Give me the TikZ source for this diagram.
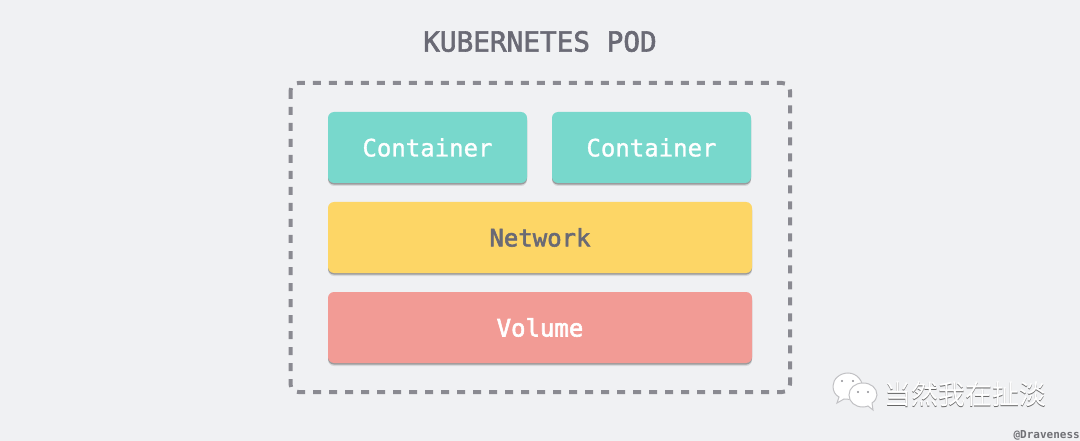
\documentclass[tikz,border=0pt]{standalone}
\usepackage{fontspec}
\setmonofont{DejaVu Sans Mono}
\newfontfamily\medmono[FakeBold=1.2]{DejaVu Sans Mono}
\newfontfamily\titlemono[FakeBold=2.2]{DejaVu Sans Mono}
\newfontfamily\semimono[FakeBold=2.4]{DejaVu Sans Mono}
\newfontfamily\cjkfont{Noto Sans CJK SC}
\definecolor{bgc}{HTML}{F0F1F3}
\definecolor{inkc}{HTML}{6A6A75}
\definecolor{tealc}{HTML}{78D8CC}
\definecolor{yellowc}{HTML}{FDD666}
\definecolor{redc}{HTML}{F29B95}
\definecolor{framec}{HTML}{8A8A91}
\definecolor{wmc}{HTML}{8E8E94}
\tikzset{
  softshadow/.style={
    preaction={fill=black,fill opacity=.10,transform canvas={yshift=-3pt}},
    preaction={fill=black,fill opacity=.28,transform canvas={yshift=-1.6pt}}},
  block/.style={rectangle,rounded corners=6pt,softshadow,inner sep=0pt,minimum height=71pt,font=\ttfamily\fontsize{24}{28}\selectfont},
  bubble/.style={fill=white,draw=wmc!55,line width=1pt},
}
\begin{document}
\begin{tikzpicture}[x=1pt,y=-1pt]
\useasboundingbox (0,0) rectangle (1080,441);
\fill[bgc] (0,0) rectangle (1080,441);
\node[font=\titlemono\fontsize{27.7}{32}\selectfont,text=inkc,anchor=center] (title) at (540,41.5) {KUBERNETES POD};
\draw[framec,line width=4pt,rounded corners=8pt,dash pattern=on 8pt off 8pt] (290.5,83) rectangle (790,392);
\path[use as bounding box] (0,0) rectangle (1080,441);
\node[block,fill=tealc,text=white,minimum width=199pt] (c1) at (427.5,147.5) {\raisebox{-1pt}{\medmono Container}};
\node[block,fill=tealc,text=white,minimum width=199pt] (c2) at (651.5,147.5) {\raisebox{-1pt}{\medmono Container}};
\node[block,fill=yellowc,text=inkc,minimum width=424pt] (net) at (540,237.5) {\raisebox{-1pt}{\semimono Network}};
\node[block,fill=redc,text=white,minimum width=424pt] (vol) at (540,327.5) {\raisebox{-1pt}{\semimono Volume}};
% watermark: two speech bubbles
\draw[bubble] (848,373) .. controls (840,373) and (833,379) .. (833,386) .. controls (833,391) and (835,395) .. (839,397) -- (837,403) -- (844,399) .. controls (850,400) and (858,399) .. (863,392) .. controls (864,381) and (857,373) .. (848,373) -- cycle;
\draw[bubble] (863,383) .. controls (855,383) and (849,388) .. (849,395) .. controls (849,402) and (855,407) .. (863,407) .. controls (865,407) and (867,406.5) .. (868,406) -- (873,410) -- (872,403) .. controls (875,401) and (877,398) .. (877,395) .. controls (877,388) and (871,383) .. (863,383) -- cycle;
\fill[wmc] (842,381) circle (1.2) (853,381) circle (1.2) (858,392) circle (1.2) (868,392) circle (1.2);
\node[font=\cjkfont\fontsize{27}{30}\selectfont,text=black!60] (wmshadow) at (965.8,394.8) {当然我在扯淡};
\node[font=\cjkfont\fontsize{27}{30}\selectfont,text=white] (wm) at (965,394) {当然我在扯淡};
\node[font=\ttfamily\bfseries\fontsize{11}{13}\selectfont,text=wmc!80!black,anchor=east,inner sep=0pt] (author) at (1080,435) {@Draveness};
\end{tikzpicture}
\end{document}
